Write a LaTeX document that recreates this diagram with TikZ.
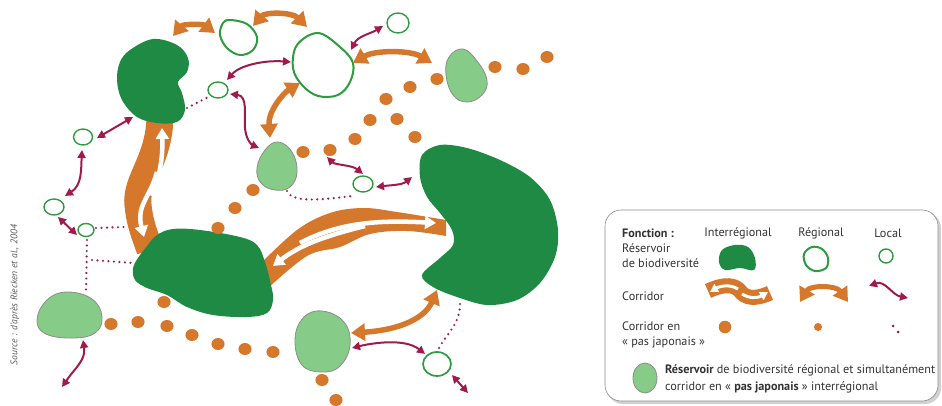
\documentclass[tikz,border=0pt]{standalone}
\usepackage{fontspec}
\setmainfont{PT Sans}
\usetikzlibrary{arrows.meta}
\definecolor{dkgreen}{HTML}{1F8A43}
\definecolor{ltgreen}{HTML}{86CC88}
\definecolor{ringgreen}{HTML}{2F9B40}
\definecolor{orng}{HTML}{D6782C}
\definecolor{wine}{HTML}{A01A4C}
\definecolor{shapegray}{HTML}{8C8C8C}
\definecolor{txt}{HTML}{333333}
\begin{document}
\begin{tikzpicture}[x=1pt,y=-1pt,
  reservoir/.style={fill=dkgreen},
  stone/.style={fill=ltgreen, draw=shapegray, line width=0.8pt},
  regring/.style={draw=ringgreen, line width=2pt},
  locring/.style={draw=ringgreen, line width=1.4pt},
  dotstep/.style={fill=orng},
  regarrow/.style={draw=orng, line width=5.5pt, {Triangle[width=17pt,length=14pt]}-{Triangle[width=17pt,length=14pt]}},
  locarrow/.style={draw=wine, line width=2pt, {Triangle[width=8pt,length=8pt]}-{Triangle[width=8pt,length=8pt]}},
  dotline/.style={draw=wine, line width=2.4pt, line cap=round, dash pattern=on 0pt off 5.5pt},
  whitearrow/.style={draw=white, line width=4.5pt, -{Triangle[width=13pt,length=11pt]}},
  band/.style={fill=orng},
  legtext/.style={text=txt, font=\fontsize{12.2}{15}\selectfont, inner sep=0pt},
]
\useasboundingbox (0,0) rectangle (942,406);

% ---------- interregional corridors (bands) ----------
\draw[orng, line width=27pt] (160,115) .. controls (160,160) and (135,180) .. (138,205) .. controls (140,225) and (145,235) .. (150,250);
\fill[band] plot[smooth, tension=0.6] coordinates {(258,266) (297,230) (330,213) (363,208) (397,212) (446,220)}
  -- plot[smooth, tension=0.6] coordinates {(446,236) (407,231) (370,234) (340,247) (307,256) (266,290)} -- cycle;

% ---------- reservoirs (interregional) ----------
\fill[reservoir] plot[smooth cycle, tension=0.6] coordinates {(130,50) (153,39) (177,45) (188,58) (187,72) (178,82) (182,93) (185,110) (177,122) (157,123) (137,117) (122,100) (117,80) (120,62)};
\fill[reservoir] plot[smooth cycle, tension=0.6] coordinates {(157,235) (173,229) (200,230) (240,237) (257,245) (265,262) (271,285) (273,300) (267,313) (247,317) (213,315) (187,307) (167,295) (147,288) (135,280) (133,268) (138,258) (147,246)};
\fill[reservoir] plot[smooth cycle, tension=0.55] coordinates {(440,145) (467,148) (500,160) (530,177) (550,200) (558,230) (555,257) (540,283) (517,300) (487,305) (457,297) (433,287) (422,275) (440,258) (453,245) (452,230) (440,213) (427,197) (420,177) (422,155)};

% ---------- white arrows inside bands ----------
\draw[whitearrow] (152,196) .. controls (159,178) and (163,160) .. (162,128);
\draw[whitearrow] (157,172) .. controls (150,198) and (136,205) .. (144,237);
\draw[whitearrow] (300,243) .. controls (340,222) and (380,220) .. (436,223);
\draw[whitearrow] (365,226) .. controls (325,236) and (300,245) .. (273,266);

% ---------- stepping stones (light green) ----------
\draw[stone] plot[smooth cycle, tension=0.7] coordinates {(463,49) (477,61) (487,80) (482,95) (467,102) (453,95) (446,75) (449,57)};
\draw[stone] plot[smooth cycle, tension=0.7] coordinates {(278,142) (292,152) (297,172) (290,187) (275,190) (261,183) (257,168) (265,150)};
\draw[stone] plot[smooth cycle, tension=0.7] coordinates {(67,292) (92,299) (102,317) (95,333) (73,338) (46,334) (37,320) (47,300)};
\draw[stone] plot[smooth cycle, tension=0.7] coordinates {(322,311) (344,322) (350,345) (340,366) (322,372) (302,365) (295,340) (303,318)};

% ---------- regional rings ----------
\draw[regring] plot[smooth cycle, tension=0.6] coordinates {(230,20) (247,24) (257,37) (253,50) (240,55) (227,48) (220,35) (223,23)};
\draw[regring] plot[smooth cycle, tension=0.6] coordinates {(318,33) (340,47) (353,63) (350,82) (338,95) (318,96) (302,85) (293,68) (297,45)};
\draw[regring, line width=1.7pt] (437,364) ellipse [x radius=14, y radius=12];

% ---------- local rings ----------
\draw[locring] (398,23) ellipse [x radius=11, y radius=10];
\draw[locring] (218,90) ellipse [x radius=10, y radius=8];
\draw[locring] (83,137) ellipse [x radius=9.5, y radius=8];
\draw[locring] (54,207) ellipse [x radius=10, y radius=8];
\draw[locring] (86,230) ellipse [x radius=8, y radius=6.5];
\draw[locring] (363,184) ellipse [x radius=10, y radius=8];

% ---------- "pas japonais" dots ----------
\foreach \p in {(495,67),(523,69),(547,57),(437,79),(410,87),(386,99),(370,120),(397,119),(415,137),(355,139),(330,150),(303,152),(253,190),(235,208),(218,228),
  (164,302),(111,324),(138,322),(167,326),(192,335),(218,344),(245,349),(273,352),(322,380),(336,400)}
  \fill[dotstep] \p ellipse [x radius=6.6, y radius=6];

% ---------- regional arrows (orange) ----------
\draw[regarrow] (173,36) .. controls (183,24) and (203,24) .. (215,33);
\draw[regarrow] (253,26) .. controls (265,12) and (292,12) .. (307,27);
\draw[regarrow] (353,63) .. controls (375,50) and (410,50) .. (432,63);
\draw[regarrow] (300,83) .. controls (285,92) and (268,110) .. (270,138);
\draw[regarrow] (351,333) .. controls (400,330) and (425,318) .. (437,290);

% ---------- local arrows (wine) ----------
\draw[locarrow] (351,50) .. controls (358,36) and (370,34) .. (383,26);
\draw[locarrow] (227,80) .. controls (240,65) and (265,60) .. (291,62);
\draw[locarrow] (230,94) .. controls (248,96) and (244,115) .. (245,128) .. controls (246,140) and (252,145) .. (259,148);
\draw[locarrow] (97,138) -- (133,117);
\draw[locarrow] (82,150) .. controls (81,170) and (82,185) .. (65,196);
\draw[locarrow] (58,217) -- (77,235);
\draw[locarrow] (327,157) .. controls (335,165) and (352,165) .. (363,174);
\draw[locarrow] (376,187) .. controls (392,185) and (402,185) .. (412,177);
\draw[locarrow] (352,348) .. controls (372,343) and (405,338) .. (425,354);
\draw[locarrow] (452,375) -- (468,393);
\draw[locarrow] (83,340) .. controls (86,360) and (75,368) .. (62,387);

% ---------- dotted local links ----------
\draw[dotline] (187,108) -- (210,96);
\draw[dotline] (287,191) .. controls (292,203) and (320,200) .. (352,196);
\draw[dotline] (96,228) -- (124,227);
\draw[dotline] (87,240) -- (86,292);
\draw[dotline] (92,260) -- (133,263);
\draw[dotline] (460,304) .. controls (460,325) and (445,335) .. (438,350);

% ---------- source ----------
\node[rotate=90, text=black!65, font=\fontsize{9.6}{11}\selectfont\itshape, inner sep=0pt] (src) at (15,295) {Source : d'après Riecken et al., 2004};

% ---------- legend ----------
\draw[rounded corners=16pt, draw=none, fill=black!18] (607,212) rectangle (941,404);
\draw[rounded corners=16pt, draw=black!45, fill=white, line width=0.6pt] (605,210) rectangle (938,401);

\node[legtext, anchor=west, font=\fontsize{12.2}{15}\selectfont\bfseries] (lfon) at (622,233) {Fonction :};
\node[legtext] (linter) at (738,233) {Interrégional};
\node[legtext] (lreg) at (821,233) {Régional};
\node[legtext] (lloc) at (888,233) {Local};
\node[legtext, anchor=west, align=left] (lres) at (622,256) {Réservoir\\de biodiversité};
\node[legtext, anchor=west] (lcor) at (622,296) {Corridor};
\node[legtext, anchor=west, align=left] (lpas) at (622,335) {Corridor en\\« pas japonais »};
\node[legtext, anchor=west, align=left, font=\fontsize{12.2}{16.5}\selectfont] (lstone) at (665,379) {\textbf{Réservoir} de biodiversité régional et simultanément\\corridor en « \textbf{pas japonais} » interrégional};

% legend symbols
\fill[reservoir] plot[smooth cycle, tension=0.6] coordinates {(722,250) (735,245) (748,247) (755,258) (754,270) (740,268) (725,270) (719,262)};
\draw[regring] plot[smooth cycle, tension=0.6] coordinates {(812,247) (822,249) (828,258) (826,268) (815,271) (806,265) (804,254)};
\draw[locring] (886,256) ellipse [x radius=7, y radius=7];

\draw[orng, line width=15pt] (708,291) .. controls (725,283) and (735,285) .. (740,291) .. controls (745,298) and (755,300) .. (770,293);
\draw[draw=white, line width=3pt, -{Triangle[width=9pt,length=8pt]}] (738,289) .. controls (730,284) and (720,286) .. (710,292);
\draw[draw=white, line width=3pt, -{Triangle[width=9pt,length=8pt]}] (742,294) .. controls (750,299) and (758,298) .. (768,292);
\draw[regarrow, line width=5pt] (800,302) .. controls (810,285) and (836,285) .. (848,302);
\draw[locarrow] (869,286) .. controls (885,280) and (892,295) .. (908,298);

\fill[dotstep] (725,327) circle (6.3);
\fill[dotstep] (818,327) circle (4);
\fill[wine] (893,326) circle (1.5);
\fill[wine] (898,332) circle (1.5);
\draw[stone] (645,378) ellipse [x radius=12, y radius=15];
\end{tikzpicture}
\end{document}
